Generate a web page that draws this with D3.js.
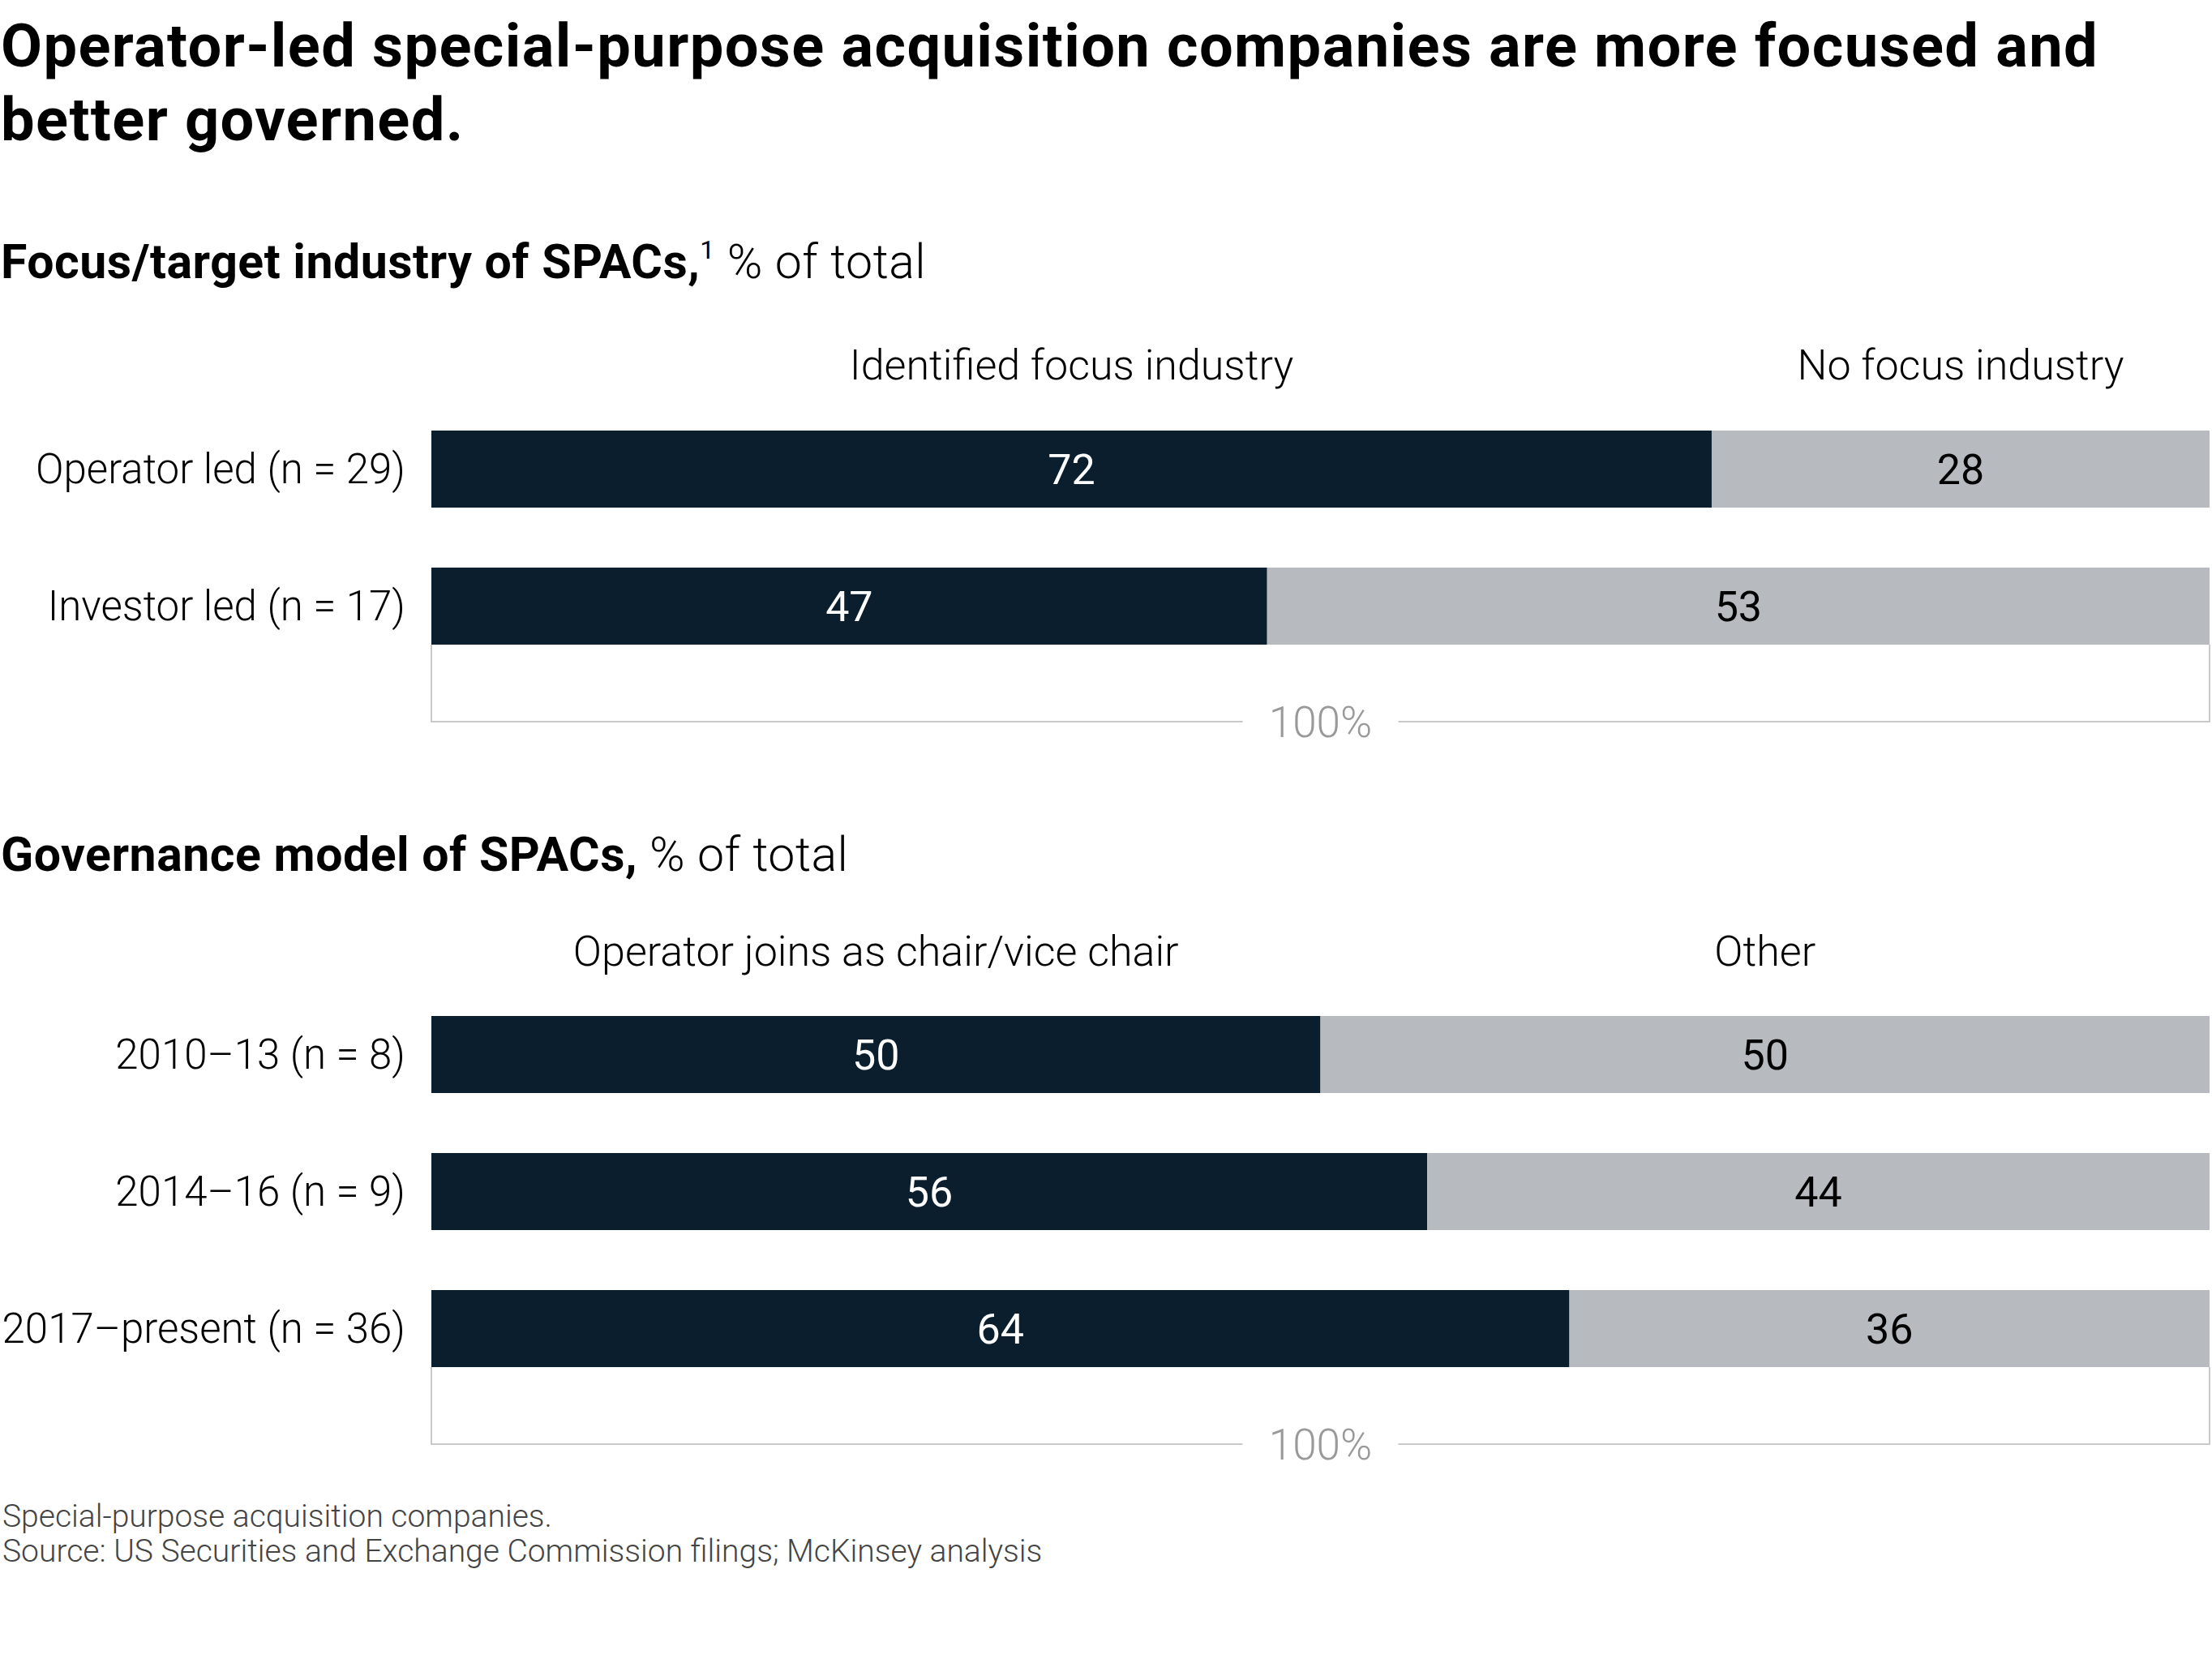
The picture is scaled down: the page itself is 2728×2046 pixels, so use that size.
<!DOCTYPE html>
<html>
<head>
<meta charset="utf-8">
<script src="https://cdn.jsdelivr.net/npm/d3@7"></script>
<style>
  body { margin: 0; padding: 0; background: #fff; }
  text { font-family: Roboto, "Liberation Sans", sans-serif; }
</style>
</head>
<body>
<script>
// chart values
var focusRows = ["Operator led (n = 29)", "Investor led (n = 17)"];
var focusSeries = ["Identified focus industry", "No focus industry"];
var focusIdentified = [72, 47];
var focusNone = [28, 53];

var govRows = ["2010–13 (n = 8)", "2014–16 (n = 9)", "2017–present (n = 36)"];
var govSeries = ["Operator joins as chair/vice chair", "Other"];
var govChair = [50, 56, 64];
var govOther = [50, 44, 36];

var totalLabel = "100%";

var width = 2728, height = 2046;
var dark = "#0b1e2d", grey = "#b7bbbf";
var barH = 95, barStep = 169;
var leftX = 1;

var svg = d3.select("body").append("svg")
  .attr("width", width)
  .attr("height", height);

var x = d3.scaleLinear().domain([0, 100]).range([532, 2725]);

// title
var title = svg.append("text")
  .attr("x", leftX).attr("y", 82)
  .style("font-size", "74px").style("font-weight", 700)
  .style("letter-spacing", "1.4px").attr("fill", "#000");
title.append("tspan").attr("x", leftX).text("Operator-led special-purpose acquisition companies are more focused and");
title.append("tspan").attr("x", leftX).attr("dy", 91).text("better governed.");

function subtitle(y, bold, sup, rest) {
  var t = svg.append("text").attr("x", leftX).attr("y", y)
    .style("font-size", "59px").style("letter-spacing", "0.5px").attr("fill", "#000");
  t.append("tspan").style("font-weight", 700).text(bold);
  if (sup) {
    t.append("tspan").style("font-size", "32px").style("font-weight", 400)
      .attr("dy", -24).text(sup);
    t.append("tspan").attr("dy", 24).style("font-weight", 300).text(rest);
  } else {
    t.append("tspan").style("font-weight", 300).text(rest);
  }
}

function section(rows, series, a, b, headerY, barTop) {
  var data = rows.map(function (r, i) { return { row: r, a: a[i], b: b[i] }; });
  var y = d3.scaleBand()
    .domain(rows)
    .range([barTop, barTop + rows.length * barStep - (barStep - barH)])
    .paddingInner((barStep - barH) / barStep)
    .paddingOuter(0);

  var g = svg.append("g");

  // series headers, centred over the first row's segments
  g.append("text")
    .attr("x", (x(0) + x(data[0].a)) / 2).attr("y", headerY)
    .attr("text-anchor", "middle")
    .style("font-size", "52px").style("font-weight", 300)
    .text(series[0]);
  g.append("text")
    .attr("x", (x(data[0].a) + x(data[0].a + data[0].b)) / 2).attr("y", headerY)
    .attr("text-anchor", "middle")
    .style("font-size", "52px").style("font-weight", 300)
    .text(series[1]);

  var rowG = g.selectAll(".row").data(data).enter().append("g")
    .attr("class", "row");

  rowG.append("rect")
    .attr("x", x(0))
    .attr("y", function (d) { return y(d.row); })
    .attr("width", function (d) { return x(d.a) - x(0); })
    .attr("height", y.bandwidth())
    .attr("fill", dark);

  rowG.append("rect")
    .attr("x", function (d) { return x(d.a); })
    .attr("y", function (d) { return y(d.row); })
    .attr("width", function (d) { return x(d.a + d.b) - x(d.a); })
    .attr("height", y.bandwidth())
    .attr("fill", grey);

  rowG.append("text")
    .attr("x", (x(0) - 32))
    .attr("y", function (d) { return y(d.row) + y.bandwidth() / 2; })
    .attr("dy", "0.35em")
    .attr("text-anchor", "end")
    .style("font-size", "51px").style("font-weight", 300)
    .text(function (d) { return d.row; });

  rowG.append("text")
    .attr("x", function (d) { return (x(0) + x(d.a)) / 2; })
    .attr("y", function (d) { return y(d.row) + y.bandwidth() / 2; })
    .attr("dy", "0.36em")
    .attr("text-anchor", "middle")
    .attr("fill", "#fff")
    .style("font-size", "52px").style("font-weight", 400)
    .text(function (d) { return d.a; });

  rowG.append("text")
    .attr("x", function (d) { return (x(d.a) + x(d.a + d.b)) / 2; })
    .attr("y", function (d) { return y(d.row) + y.bandwidth() / 2; })
    .attr("dy", "0.36em")
    .attr("text-anchor", "middle")
    .attr("fill", "#000")
    .style("font-size", "52px").style("font-weight", 400)
    .text(function (d) { return d.b; });

  // 100% bracket under the bars
  var last = rows[rows.length - 1];
  var y0 = y(last) + y.bandwidth();
  var y1 = y0 + barH;
  var mid = (x(0) + x(100)) / 2;
  var gap = 96;
  var line = g.append("g").attr("stroke", "#c9c9c9").attr("stroke-width", 2).attr("fill", "none");
  line.append("path")
    .attr("d", "M" + x(0) + "," + y0 + "V" + y1 + "H" + (mid - gap));
  line.append("path")
    .attr("d", "M" + (mid + gap) + "," + y1 + "H" + x(100) + "V" + y0);
  g.append("text")
    .attr("x", mid).attr("y", y1)
    .attr("dy", "0.35em")
    .attr("text-anchor", "middle")
    .attr("fill", "#999")
    .style("font-size", "53px").style("font-weight", 300)
    .text(totalLabel);
}

subtitle(343, "Focus/target industry of SPACs,", "1", " % of total");
section(focusRows, focusSeries, focusIdentified, focusNone, 468, 531);

subtitle(1074, "Governance model of SPACs,", null, " % of total");
section(govRows, govSeries, govChair, govOther, 1191, 1253);

// footnotes
var notes = svg.append("text")
  .attr("x", 3).attr("y", 1883)
  .style("font-size", "39px").style("font-weight", 300).attr("fill", "#444");
notes.append("tspan").attr("x", 3).text("Special-purpose acquisition companies.");
notes.append("tspan").attr("x", 3).attr("dy", 43).text("Source: US Securities and Exchange Commission filings; McKinsey analysis");
</script>
</body>
</html>
